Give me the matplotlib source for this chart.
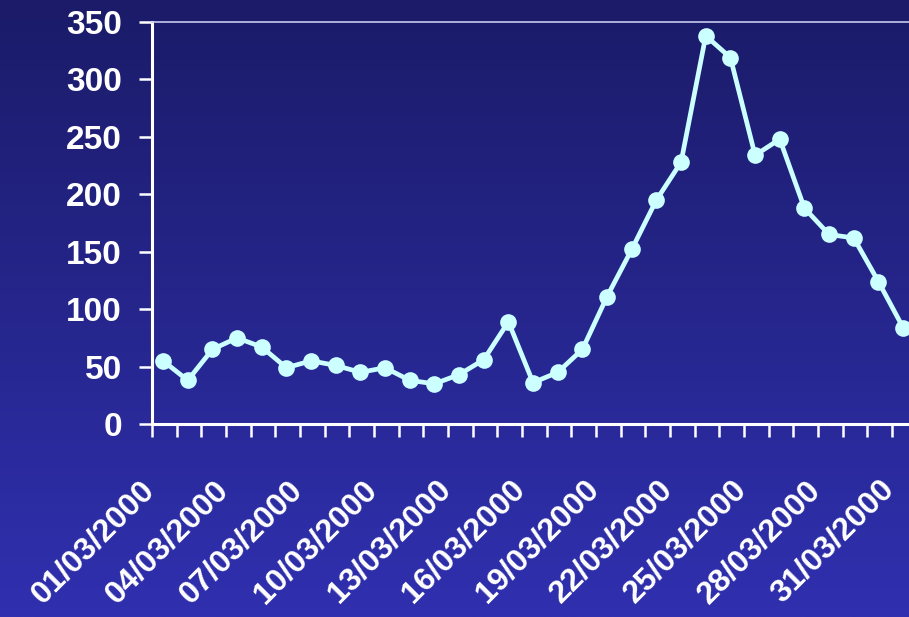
import numpy as np
import matplotlib
matplotlib.use('Agg')
import matplotlib.pyplot as plt
from matplotlib.colors import LinearSegmentedColormap
from matplotlib.transforms import ScaledTranslation

# daily values, March 2000
days = ['%02d/03/2000' % d for d in range(1, 32)]
values = [55, 38, 65, 75, 67, 49, 55, 51, 45, 49, 38, 35, 43, 56, 89, 36,
          45, 65, 111, 152, 195, 228, 338, 319, 234, 248, 188, 165, 162, 124, 84]
yticks = [0, 50, 100, 150, 200, 250, 300, 350]

plt.rcParams['font.family'] = ['Liberation Sans', 'DejaVu Sans']
plt.rcParams['font.weight'] = 'bold'

fig = plt.figure(figsize=(9.09, 6.17), dpi=100)

# gradient background
bg = fig.add_axes([0, 0, 1, 1], zorder=-1)
cmap = LinearSegmentedColormap.from_list('bg', ['#1b1b69', '#3030b0'])
bg.imshow(np.linspace(0, 1, 256).reshape(-1, 1), aspect='auto', cmap=cmap,
          extent=[0, 1, 0, 1])
bg.axis('off')

ax = fig.add_axes([0.1672, 0.3128, 0.8328, 0.6515])
ax.set_facecolor('none')

x = np.arange(len(values))
ax.plot(x, values, color='#ccffff', lw=3.4, marker='o', markersize=12,
        markeredgewidth=0)

ax.set_xlim(-0.45, 30.24)
ax.set_ylim(0, 350)

ax.spines['right'].set_visible(False)
ax.spines['left'].set_color('white')
ax.spines['bottom'].set_color('white')
ax.spines['left'].set_linewidth(2.2)
ax.spines['bottom'].set_linewidth(2.2)
ax.spines['top'].set_color('#c8c8ee')
ax.spines['top'].set_linewidth(1.2)

ax.set_yticks(yticks)
ax.set_yticklabels([str(v) for v in yticks])
ax.tick_params(axis='y', colors='white', length=9.5, width=1.8, pad=12,
               labelsize=24)

# labels every third day, tick marks between days
ax.set_xticks(x[::3])
ax.set_xticklabels([days[i] for i in x[::3]], rotation=45, ha='right',
                   va='center', rotation_mode='anchor')
ax.tick_params(axis='x', which='major', length=0, pad=44, labelsize=23,
               colors='white')
ax.set_xticks(np.arange(-0.45, 30.3, 1), minor=True)
ax.tick_params(axis='x', which='minor', length=9.5, width=1.8, color='white')

offset = ScaledTranslation(-0.13, 0, fig.dpi_scale_trans)
for lab in ax.get_xticklabels():
    lab.set_transform(lab.get_transform() + offset)

fig.savefig('out.png', dpi=100)
